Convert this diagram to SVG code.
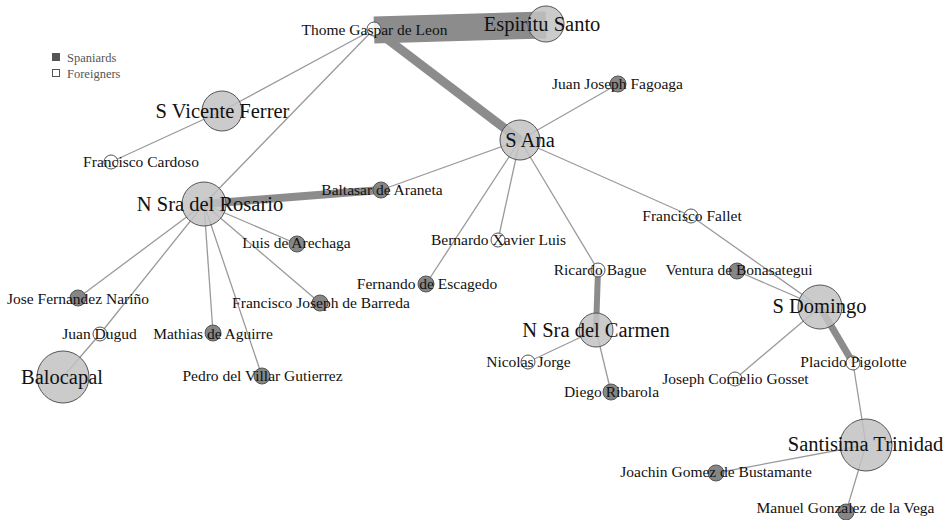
<svg xmlns="http://www.w3.org/2000/svg" width="952" height="520" viewBox="0 0 952 520">
<style>
.e{stroke:#9a9a9a;stroke-width:1.3;fill:none}
.t{stroke:#8c8c8c;fill:none;stroke-linecap:butt}
.big{fill:#c2c2c2;fill-opacity:0.85;stroke:#555;stroke-width:1}
.sp{fill:#808080;fill-opacity:0.95;stroke:#555;stroke-width:1}
.fo{fill:#fff;fill-opacity:0.85;stroke:#555;stroke-width:1}
text{font-family:"Liberation Serif","Times New Roman",serif;fill:#111;text-anchor:middle}
.s{font-size:15.5px}
.b{font-size:20.5px}
.lg{font-size:12.5px;fill:#555;text-anchor:start}
</style>
<rect width="952" height="520" fill="#fff"/>
<g id="legend">
<rect x="52" y="53" width="8" height="8" fill="#555"/>
<rect x="52.5" y="69.5" width="7" height="7" fill="#fff" stroke="#555" stroke-width="1"/>
<text class="lg" x="67" y="62">Spaniards</text>
<text class="lg" x="67" y="78">Foreigners</text>
</g>
<g id="connectors">
<line class="t" x1="374" y1="30" x2="546" y2="25" stroke-width="27"/>
<line class="t" x1="374" y1="29" x2="520" y2="140" stroke-width="9"/>
<line class="t" x1="204" y1="204" x2="381" y2="190" stroke-width="8"/>
<line class="t" x1="598" y1="270" x2="596" y2="330" stroke-width="6"/>
<line class="t" x1="820" y1="307" x2="853" y2="363" stroke-width="7"/>
<line class="e" x1="374" y1="29" x2="222" y2="111"/>
<line class="e" x1="222" y1="111" x2="111" y2="162"/>
<line class="e" x1="374" y1="29" x2="204" y2="204"/>
<line class="e" x1="381" y1="190" x2="520" y2="140"/>
<line class="e" x1="204" y1="204" x2="297" y2="244"/>
<line class="e" x1="204" y1="204" x2="78" y2="298"/>
<line class="e" x1="204" y1="204" x2="100" y2="334"/>
<line class="e" x1="100" y1="334" x2="63" y2="377"/>
<line class="e" x1="204" y1="204" x2="213" y2="333"/>
<line class="e" x1="204" y1="204" x2="262" y2="376"/>
<line class="e" x1="204" y1="204" x2="320" y2="303"/>
<line class="e" x1="520" y1="140" x2="618" y2="84"/>
<line class="e" x1="520" y1="140" x2="498" y2="240"/>
<line class="e" x1="520" y1="140" x2="426" y2="284"/>
<line class="e" x1="520" y1="140" x2="598" y2="270"/>
<line class="e" x1="520" y1="140" x2="691" y2="216"/>
<line class="e" x1="691" y1="216" x2="820" y2="307"/>
<line class="e" x1="596" y1="330" x2="528" y2="362"/>
<line class="e" x1="596" y1="330" x2="611" y2="392"/>
<line class="e" x1="737" y1="271" x2="820" y2="307"/>
<line class="e" x1="820" y1="307" x2="735" y2="379"/>
<line class="e" x1="853" y1="363" x2="866" y2="445"/>
<line class="e" x1="866" y1="445" x2="716" y2="473"/>
<line class="e" x1="866" y1="445" x2="846" y2="512"/>
</g>
<g id="n-thome"><circle class="fo" cx="374" cy="29" r="7"/><text class="s" x="374.5" y="35">Thome Gaspar de Leon</text></g>
<g id="n-espiritu"><circle class="big" cx="546" cy="24" r="18"/><text class="b" x="542" y="31">Espiritu Santo</text></g>
<g id="n-vicente"><circle class="big" cx="222" cy="111" r="20"/><text class="b" x="222.5" y="118">S Vicente Ferrer</text></g>
<g id="n-cardoso"><circle class="fo" cx="111" cy="162" r="7"/><text class="s" x="141" y="167">Francisco Cardoso</text></g>
<g id="n-rosario"><circle class="big" cx="204" cy="204" r="22"/><text class="b" x="210" y="211">N Sra del Rosario</text></g>
<g id="n-baltasar"><circle class="sp" cx="381" cy="190" r="8"/><text class="s" x="382" y="195">Baltasar de Araneta</text></g>
<g id="n-luis"><circle class="sp" cx="297" cy="244" r="8"/><text class="s" x="296.5" y="248">Luis de Arechaga</text></g>
<g id="n-jose"><circle class="sp" cx="78" cy="298" r="8"/><text class="s" x="78" y="304">Jose Fernandez Nariño</text></g>
<g id="n-dugud"><circle class="fo" cx="100" cy="334" r="7"/><text class="s" x="99.5" y="339">Juan Dugud</text></g>
<g id="n-balocapal"><circle class="big" cx="63" cy="377" r="26"/><text class="b" x="62" y="384">Balocapal</text></g>
<g id="n-mathias"><circle class="sp" cx="213" cy="333" r="8"/><text class="s" x="213" y="339">Mathias de Aguirre</text></g>
<g id="n-barreda"><circle class="sp" cx="320" cy="303" r="8"/><text class="s" x="321" y="308">Francisco Joseph de Barreda</text></g>
<g id="n-pedro"><circle class="sp" cx="262" cy="376" r="8"/><text class="s" x="262.5" y="381">Pedro del Villar Gutierrez</text></g>
<g id="n-sana"><circle class="big" cx="520" cy="140" r="20"/><text class="b" x="530" y="147">S Ana</text></g>
<g id="n-fagoaga"><circle class="sp" cx="618" cy="84" r="8"/><text class="s" x="617.5" y="89">Juan Joseph Fagoaga</text></g>
<g id="n-bernardo"><circle class="fo" cx="498" cy="240" r="7"/><text class="s" x="498.5" y="245">Bernardo Xavier Luis</text></g>
<g id="n-escagedo"><circle class="sp" cx="426" cy="284" r="8"/><text class="s" x="427" y="289">Fernando de Escagedo</text></g>
<g id="n-ricardo"><circle class="fo" cx="598" cy="270" r="7"/><text class="s" x="600" y="275">Ricardo Bague</text></g>
<g id="n-carmen"><circle class="big" cx="596" cy="330" r="17"/><text class="b" x="596" y="337">N Sra del Carmen</text></g>
<g id="n-nicolas"><circle class="fo" cx="528" cy="362" r="7"/><text class="s" x="528.5" y="367">Nicolas Jorge</text></g>
<g id="n-diego"><circle class="sp" cx="611" cy="392" r="8"/><text class="s" x="611.5" y="397">Diego Ribarola</text></g>
<g id="n-fallet"><circle class="fo" cx="691" cy="216" r="7"/><text class="s" x="692" y="221">Francisco Fallet</text></g>
<g id="n-ventura"><circle class="sp" cx="737" cy="271" r="8"/><text class="s" x="739" y="275">Ventura de Bonasategui</text></g>
<g id="n-domingo"><circle class="big" cx="820" cy="307" r="22"/><text class="b" x="819.5" y="313">S Domingo</text></g>
<g id="n-placido"><circle class="fo" cx="853" cy="363" r="7"/><text class="s" x="853.5" y="367">Placido Pigolotte</text></g>
<g id="n-gosset"><circle class="fo" cx="735" cy="379" r="7"/><text class="s" x="735.5" y="384">Joseph Cornelio Gosset</text></g>
<g id="n-trinidad"><circle class="big" cx="866" cy="445" r="26"/><text class="b" x="865.5" y="451">Santisima Trinidad</text></g>
<g id="n-joachin"><circle class="sp" cx="716" cy="473" r="8"/><text class="s" x="716" y="477">Joachin Gomez de Bustamante</text></g>
<g id="n-manuel"><circle class="sp" cx="846" cy="512" r="8"/><text class="s" x="845.5" y="513">Manuel Gonzalez de la Vega</text></g>
</svg>
